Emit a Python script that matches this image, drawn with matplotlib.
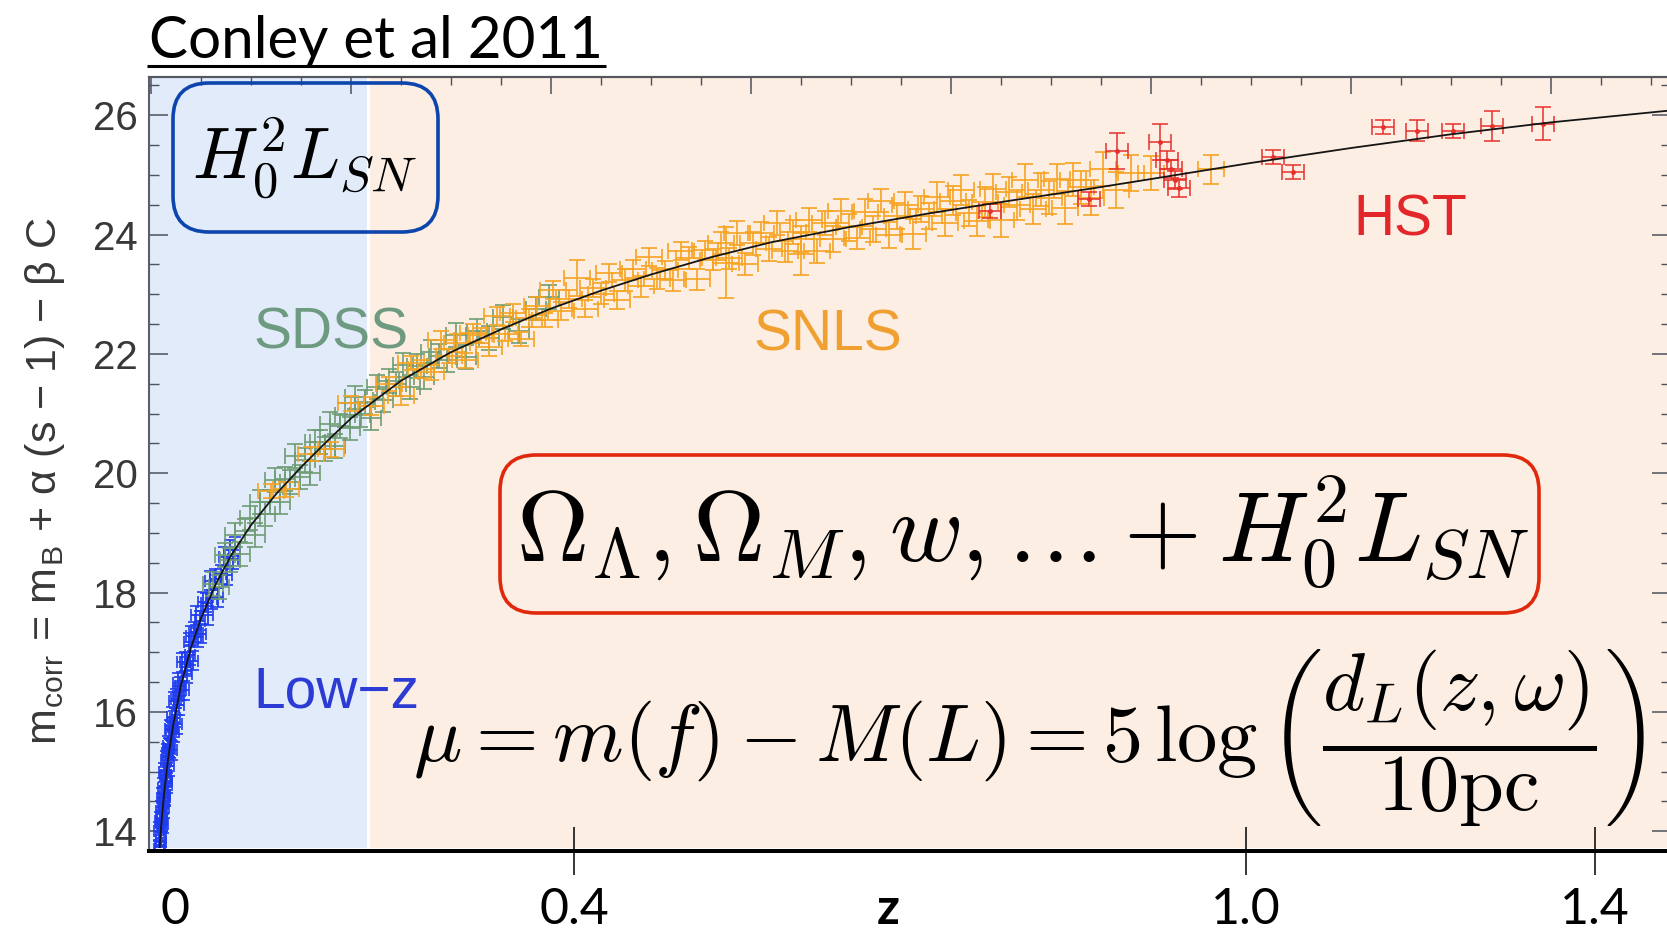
import matplotlib
matplotlib.use("Agg")
import matplotlib.pyplot as plt
from matplotlib.patches import FancyBboxPatch
from matplotlib.ticker import MultipleLocator, NullLocator

plt.rcParams["font.family"] = ["Liberation Sans", "DejaVu Sans"]
plt.rcParams["mathtext.fontset"] = "cm"

# ── data (z, corrected magnitude) ──────────────────────────────────

# best-fit model line
curve_z = [0.0080, 0.010, 0.013, 0.017, 0.022, 0.030, 0.040, 0.050, 0.065,
           0.080, 0.100, 0.125, 0.150, 0.175, 0.200, 0.250, 0.300, 0.350,
           0.400, 0.450, 0.500, 0.560, 0.620, 0.700, 0.780, 0.860, 0.940,
           1.000, 1.100, 1.200, 1.300, 1.400, 1.520]
curve_m = [13.58, 14.05, 14.62, 15.20, 15.76, 16.45, 17.08, 17.57, 18.15,
           18.62, 19.13, 19.65, 20.10, 20.52, 20.92, 21.55, 22.03, 22.41,
           22.76, 23.06, 23.33, 23.62, 23.87, 24.13, 24.36, 24.57, 24.77,
           24.93, 25.20, 25.45, 25.68, 25.88, 26.08]

# Low-z sample
lowz_z = [0.0076, 0.0080, 0.0083, 0.0086, 0.0089, 0.0092, 0.0095, 0.0098,
          0.0101, 0.0104, 0.0107, 0.0110, 0.0113, 0.0116, 0.0119, 0.0122,
          0.0125, 0.0128, 0.0131, 0.0135, 0.0139, 0.0143, 0.0147, 0.0151,
          0.0155, 0.0159, 0.0163, 0.0167, 0.0172, 0.0177, 0.0182, 0.0187,
          0.0193, 0.0199, 0.0205, 0.0211, 0.0218, 0.0225, 0.0232, 0.0240,
          0.0248, 0.0256, 0.0265, 0.0274, 0.0283, 0.0293, 0.0303, 0.0314,
          0.0325, 0.0337, 0.0349, 0.0362, 0.0375, 0.0389, 0.0403, 0.0418,
          0.0434, 0.0450, 0.0467, 0.0485, 0.0504, 0.0524, 0.0545, 0.0567,
          0.0590, 0.0614, 0.0640, 0.0667, 0.0695, 0.0725, 0.0755, 0.0785,
          0.0815, 0.0840]
lowz_m = [13.70, 13.47, 14.00, 13.77, 13.60, 14.17, 13.89, 14.16,
          13.82, 14.34, 14.20, 14.56, 14.17, 14.47, 14.13, 14.73,
          14.58, 14.39, 14.99, 14.60, 14.92, 14.58, 15.19, 14.95,
          14.85, 15.31, 14.81, 15.26, 15.43, 15.09, 15.40, 15.71,
          15.38, 15.69, 15.36, 15.92, 15.74, 15.66, 16.18, 15.90,
          16.22, 15.79, 16.27, 16.49, 16.11, 16.43, 16.36, 16.83,
          16.36, 16.84, 16.76, 16.64, 17.17, 16.95, 17.28, 16.86,
          17.34, 17.62, 17.25, 17.53, 17.31, 17.85, 17.83, 17.62,
          18.20, 17.89, 18.23, 17.92, 18.31, 18.60, 18.29, 18.72,
          18.56, 18.77]
lowz_err = 0.16

# SDSS sample
sdss_z = [0.062, 0.068, 0.074, 0.079, 0.084, 0.089, 0.094, 0.099, 0.104,
          0.109, 0.114, 0.119, 0.124, 0.129, 0.134, 0.139, 0.144, 0.149,
          0.154, 0.159, 0.164, 0.169, 0.174, 0.179, 0.184, 0.189, 0.194,
          0.199, 0.204, 0.209, 0.214, 0.220, 0.226, 0.232, 0.238, 0.245,
          0.252, 0.259, 0.266, 0.273, 0.280, 0.288, 0.296, 0.305, 0.315,
          0.326, 0.338, 0.352, 0.368, 0.385, 0.398]
sdss_m = [18.14, 18.10, 18.63, 18.54, 18.97, 18.64, 19.03, 19.25, 18.96,
          19.52, 19.32, 19.52, 19.88, 19.52, 19.91, 19.85, 20.29, 19.93,
          20.22, 20.00, 20.53, 20.52, 20.40, 20.83, 20.46, 20.79, 20.97,
          20.75, 21.27, 20.98, 21.20, 20.92, 21.45, 21.22, 21.55, 21.49,
          21.82, 21.44, 21.80, 21.62, 22.04, 21.97, 21.89, 22.32, 21.95,
          22.38, 22.27, 22.62, 22.39, 22.76, 22.95]
sdss_err = 0.2

# SNLS sample
snls_z = [0.120, 0.135, 0.160, 0.180, 0.200, 0.220, 0.238, 0.250, 0.260, 0.270,
          0.280, 0.290, 0.298, 0.306, 0.314, 0.322, 0.330, 0.338, 0.346, 0.354,
          0.362, 0.370, 0.378, 0.386, 0.394, 0.402, 0.410, 0.418, 0.426, 0.434,
          0.442, 0.450, 0.458, 0.466, 0.474, 0.482, 0.490, 0.498, 0.506, 0.514,
          0.522, 0.530, 0.538, 0.546, 0.554, 0.562, 0.570, 0.575, 0.578, 0.586,
          0.594, 0.602, 0.610, 0.618, 0.626, 0.634, 0.642, 0.650, 0.658, 0.666,
          0.674, 0.682, 0.690, 0.698, 0.706, 0.714, 0.722, 0.730, 0.738, 0.746,
          0.754, 0.762, 0.770, 0.778, 0.786, 0.794, 0.802, 0.810, 0.818, 0.826,
          0.834, 0.842, 0.850, 0.858, 0.866, 0.874, 0.882, 0.890, 0.898, 0.906,
          0.914, 0.922, 0.930, 0.940, 0.952, 0.965, 0.980, 1.000, 1.060, 0.650]
snls_m = [19.70, 19.73, 20.32, 20.40, 21.17, 21.12, 21.50, 21.30, 21.85, 21.74,
          21.69, 22.23, 21.96, 22.18, 21.89, 22.35, 22.31, 22.12, 22.63, 22.34,
          22.69, 22.25, 22.60, 22.81, 22.57, 23.07, 22.72, 22.92, 23.27, 22.76,
          23.11, 23.01, 23.35, 22.90, 23.24, 23.43, 23.13, 23.62, 23.26, 23.40,
          23.24, 23.73, 23.61, 23.25, 23.74, 23.58, 23.86, 23.53, 23.60, 24.03,
          23.51, 23.85, 24.03, 23.76, 24.19, 23.72, 24.04, 23.92, 24.25, 23.72,
          24.20, 23.92, 24.40, 24.12, 23.95, 24.37, 24.09, 24.57, 23.99, 24.31,
          24.49, 24.01, 24.43, 24.31, 24.63, 24.20, 24.57, 24.74, 24.36, 24.23,
          24.55, 24.77, 24.24, 24.71, 24.49, 24.91, 24.43, 24.75, 24.62, 24.93,
          24.45, 24.92, 24.79, 24.62, 25.10, 24.74, 25.03, 25.03, 25.09, 23.67]
snls_err = [0.12, 0.12, 0.12, 0.12, 0.12, 0.15, 0.12, 0.15, 0.12, 0.15,
            0.12, 0.15, 0.12, 0.15, 0.12, 0.15, 0.12, 0.15, 0.15, 0.12,
            0.15, 0.12, 0.15, 0.15, 0.12, 0.15, 0.15, 0.15, 0.30, 0.15,
            0.15, 0.18, 0.15, 0.15, 0.18, 0.15, 0.18, 0.15, 0.18, 0.15,
            0.18, 0.15, 0.18, 0.18, 0.15, 0.18, 0.18, 0.60, 0.18, 0.20,
            0.18, 0.20, 0.18, 0.20, 0.20, 0.18, 0.20, 0.22, 0.20, 0.20,
            0.20, 0.22, 0.20, 0.22, 0.20, 0.22, 0.22, 0.20, 0.22, 0.22,
            0.22, 0.25, 0.22, 0.22, 0.25, 0.22, 0.25, 0.25, 0.22, 0.25,
            0.25, 0.25, 0.28, 0.25, 0.25, 0.28, 0.25, 0.28, 0.28, 0.25,
            0.28, 0.28, 0.28, 0.30, 0.28, 0.30, 0.30, 0.28, 0.25, 0.35]

# HST sample
hst_z = [0.839, 0.938, 0.966, 1.009, 1.016, 1.020, 1.024, 1.028, 1.122,
         1.142, 1.232, 1.266, 1.302, 1.341, 1.392]
hst_m = [24.40, 24.60, 25.40, 25.55, 25.25, 25.10, 24.92, 24.78, 25.30,
         25.05, 25.80, 25.74, 25.74, 25.82, 25.86]
hst_err = [0.12, 0.12, 0.30, 0.30, 0.15, 0.15, 0.15, 0.15, 0.12,
           0.12, 0.12, 0.18, 0.12, 0.25, 0.28]

# tick labels added on the slide underneath the plot
slide_tick_pos = [0.024, 0.423, 0.737, 1.095, 1.444]
slide_tick_labels = ["0", "0.4", "z", "1.0", "1.4"]

BLUE = "#1f3cf0"
GREEN = "#6f9c74"
ORANGE = "#f6a322"
RED = "#e6302c"

# ── figure ───────────────────────────────────────────────────────

W, H = 1667, 935
fig = plt.figure(figsize=(W / 100, H / 100), dpi=100)
fig.patch.set_facecolor("white")

# main plot: z is linear, 1000 px per unit, z=0 at x=151 px
ax = fig.add_axes([149 / W, (H - 848) / H, 1522 / W, 771 / H])
ax.set_xlim(-0.002, 1.520)
ax.set_ylim(13.72, 26.64)
ax.patch.set_alpha(0)

ax.axvspan(-0.002, 0.216, color="#e2ebfa", zorder=0, lw=0)
ax.axvspan(0.216, 1.52, color="#fdeee3", zorder=0, lw=0)
ax.axvline(0.2165, color="white", lw=2.2, zorder=0.5)

ax.errorbar(lowz_z, lowz_m, xerr=0.005, yerr=lowz_err, fmt="none",
            ecolor=BLUE, elinewidth=1.3, capsize=4, capthick=1.2, zorder=3)
ax.errorbar(sdss_z, sdss_m, xerr=0.010, yerr=sdss_err, fmt="none",
            ecolor=GREEN, elinewidth=1.2, capsize=6, capthick=1.2, zorder=3)
ax.errorbar(snls_z, snls_m, xerr=0.013, yerr=snls_err, fmt="none",
            ecolor=ORANGE, elinewidth=1.2, capsize=6, capthick=1.2, zorder=3)
ax.errorbar(hst_z, hst_m, xerr=0.011, yerr=hst_err, fmt="o", ms=2.5,
            color=RED, ecolor=RED, elinewidth=1.1, capsize=6, capthick=1.1,
            zorder=4)
ax.plot(curve_z, curve_m, color="#151515", lw=1.3, zorder=5)

# survey names
lab_kw = dict(fontsize=41, ha="center", va="center", zorder=6)
ax.text(0.180, 22.35, "SDSS", color="#6f9a82", **lab_kw)
ax.text(0.677, 22.31, "SNLS", color="#f0a031", **lab_kw)
ax.text(1.259, 24.24, "HST", color="#e2262a", **lab_kw)
ax.text(0.185, 16.32, "Low\u2212z", color="#2b3bd3", **lab_kw)

# y axis (original plot)
ax.yaxis.set_major_locator(MultipleLocator(2))
ax.yaxis.set_minor_locator(MultipleLocator(0.5))
ax.tick_params(axis="y", which="both", direction="in", left=True,
               right=True, labelright=False, color="#4c515c")
ax.tick_params(axis="y", which="major", length=14, width=1.1,
               labelsize=29, labelcolor="#383838", pad=8)
ax.tick_params(axis="y", which="minor", length=7, width=1.0)
ax.set_ylabel("m$_{\\mathregular{corr}}$ = m$_{\\mathregular{B}}$ + \u03b1 (s \u2212 1)"
              " \u2212 \u03b2 C", fontsize=31, color="#383838")
ax.yaxis.set_label_coords(-0.054, 0.476)
ax.spines["left"].set_color("#5a5f6b")
ax.spines["left"].set_linewidth(1.5)
ax.spines["right"].set_visible(False)
ax.spines["top"].set_color("#55585f")
ax.spines["top"].set_linewidth(1.5)

# top ticks of the original plot
sec = ax.secondary_xaxis("top")
sec.xaxis.set_major_locator(MultipleLocator(0.2))
sec.xaxis.set_minor_locator(MultipleLocator(0.05))
sec.tick_params(which="both", direction="in", labeltop=False, color="#4c515c")
sec.tick_params(which="major", length=12, width=1.1)
sec.tick_params(which="minor", length=6, width=1.0)
sec.spines["top"].set_color("#55585f")
sec.spines["top"].set_linewidth(1.5)

# bottom axis drawn on the slide
ax.spines["bottom"].set_position(("outward", 2.2))
ax.spines["bottom"].set_color("black")
ax.spines["bottom"].set_linewidth(2.9)
ax.set_xticks(slide_tick_pos, slide_tick_labels)
ax.xaxis.set_minor_locator(NullLocator())
ax.tick_params(axis="x", which="major", direction="inout", length=34,
               width=1.1, color="black", labelsize=36, pad=9)
for t in ax.get_xticklabels():
    t.set_fontfamily(["Liberation Sans Narrow", "Lato", "DejaVu Sans"])
ax.get_xticklabels()[2].set_fontweight("bold")
ticks = ax.xaxis.get_major_ticks()
ticks[0].tick1line.set_visible(False)
ticks[2].tick1line.set_visible(False)

# ── slide overlay in pixel coordinates ──────────────────────────

ov = fig.add_axes([0, 0, 1, 1], zorder=10)
ov.set_xlim(0, W)
ov.set_ylim(H, 0)
ov.axis("off")
ov.patch.set_alpha(0)

ov.text(149, 58, "Conley et al 2011", fontsize=42, va="baseline",
        ha="left", family=["Lato", "DejaVu Sans"], color="black")
ov.plot([147, 606], [66, 66], color="black", lw=2.2, solid_capstyle="butt")

ov.add_patch(FancyBboxPatch((173, 83), 265, 149,
                            boxstyle="round,pad=0,rounding_size=36",
                            fc="none", ec="#0b45ad", lw=2.6))
ov.text(305, 158, r"$H_0^2L_{SN}$", fontsize=52, ha="center", va="center",
        color="black")

ov.add_patch(FancyBboxPatch((500, 455), 1039, 158,
                            boxstyle="round,pad=0,rounding_size=36",
                            fc="none", ec="#e0280c", lw=2.6))
ov.text(1023, 533, r"$\Omega_\Lambda, \Omega_M, w, \ldots + H_0^2L_{SN}$",
        fontsize=72, ha="center", va="center", color="black")

ov.text(413, 738,
        r"$\mu = m(f) - M(L) = 5\,\log\left(\dfrac{d_L(z,\omega)}{10\mathrm{pc}}\right)$",
        fontsize=58, ha="left", va="center", color="black")

fig.savefig("out.png", dpi=100)
